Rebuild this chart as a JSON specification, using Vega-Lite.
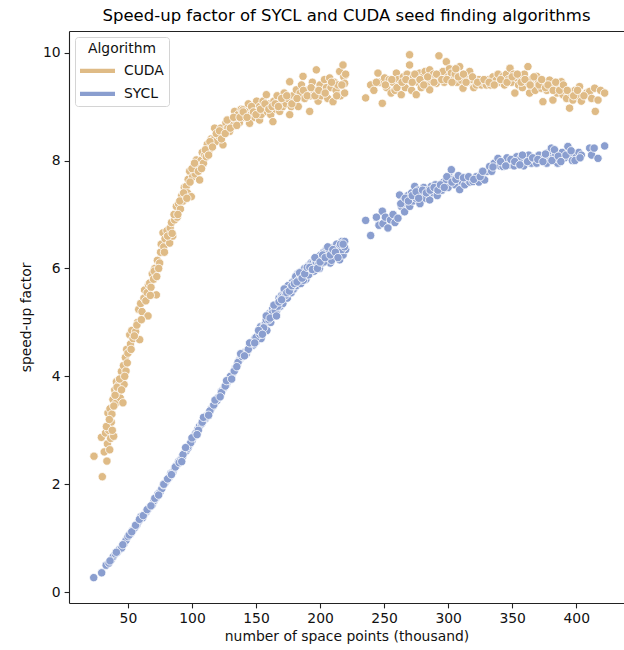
{
  "$schema": "https://vega.github.io/schema/vega-lite/v6.json",
  "width": 555,
  "height": 572,
  "autosize": {"type": "none"},
  "padding": {"left": 69, "top": 31, "right": 0, "bottom": 47},
  "title": {"text": "Speed-up factor of SYCL and CUDA seed finding algorithms", "fontSize": 16.5, "font": "DejaVu Sans", "fontWeight": "normal", "color": "#000", "offset": 7, "anchor": "middle"},
  "config": {
    "font": "DejaVu Sans",
    "view": {"stroke": null},
    "axis": {"domainColor": "#222", "domainWidth": 1.1, "tickColor": "#222", "tickWidth": 1.1, "tickSize": 4.9, "labelPadding": 4, "labelFontSize": 13.9, "labelColor": "#111", "titleFontSize": 13.9, "titleFontWeight": "normal", "titleColor": "#111", "grid": false, "labelFont": "DejaVu Sans", "titleFont": "DejaVu Sans"}
  },
  "data": {"values": [
    {"alg":"CUDA","points":23.5,"speedup":2.52},{"alg":"CUDA","points":30,"speedup":2.14},{"alg":"CUDA","points":29.3,"speedup":2.87},{"alg":"CUDA","points":31.5,"speedup":2.6},{"alg":"CUDA","points":33.6,"speedup":2.43},{"alg":"CUDA","points":32.5,"speedup":2.95},{"alg":"CUDA","points":34,"speedup":2.75},{"alg":"CUDA","points":35.8,"speedup":2.64},{"alg":"CUDA","points":35,"speedup":3.0},{"alg":"CUDA","points":36.5,"speedup":2.85},{"alg":"CUDA","points":37,"speedup":3.15},{"alg":"CUDA","points":38.9,"speedup":2.89},{"alg":"CUDA","points":33.2,"speedup":3.07},{"alg":"CUDA","points":34.4,"speedup":3.32},{"alg":"CUDA","points":36,"speedup":3.4},{"alg":"CUDA","points":37.5,"speedup":3.3},{"alg":"CUDA","points":38.3,"speedup":3.57},{"alg":"CUDA","points":39.7,"speedup":3.75},{"alg":"CUDA","points":40.5,"speedup":3.5},{"alg":"CUDA","points":41,"speedup":3.9},{"alg":"CUDA","points":42,"speedup":3.7},{"alg":"CUDA","points":43,"speedup":3.85},{"alg":"CUDA","points":44,"speedup":3.6},{"alg":"CUDA","points":46.1,"speedup":3.51},{"alg":"CUDA","points":44.9,"speedup":4.09},{"alg":"CUDA","points":45.5,"speedup":3.95},{"alg":"CUDA","points":46.5,"speedup":4.2},{"alg":"CUDA","points":47,"speedup":3.85},{"alg":"CUDA","points":48,"speedup":4.35},{"alg":"CUDA","points":48.5,"speedup":4.1},{"alg":"CUDA","points":49,"speedup":4.5},{"alg":"CUDA","points":50,"speedup":4.43},{"alg":"CUDA","points":51.4,"speedup":4.77},{"alg":"CUDA","points":52,"speedup":4.6},{"alg":"CUDA","points":53,"speedup":4.85},{"alg":"CUDA","points":54,"speedup":4.7},{"alg":"CUDA","points":56,"speedup":4.83},{"alg":"CUDA","points":59.2,"speedup":4.68},{"alg":"CUDA","points":57.5,"speedup":5.0},{"alg":"CUDA","points":58.4,"speedup":5.24},{"alg":"CUDA","points":59.9,"speedup":5.35},{"alg":"CUDA","points":61,"speedup":5.2},{"alg":"CUDA","points":62.5,"speedup":5.45},{"alg":"CUDA","points":63,"speedup":5.6},{"alg":"CUDA","points":65.7,"speedup":5.12},{"alg":"CUDA","points":65,"speedup":5.55},{"alg":"CUDA","points":66,"speedup":5.7},{"alg":"CUDA","points":67,"speedup":5.73},{"alg":"CUDA","points":68,"speedup":5.65},{"alg":"CUDA","points":69,"speedup":5.9},{"alg":"CUDA","points":70,"speedup":5.8},{"alg":"CUDA","points":71,"speedup":6.0},{"alg":"CUDA","points":72.2,"speedup":5.51},{"alg":"CUDA","points":73,"speedup":6.15},{"alg":"CUDA","points":74.8,"speedup":6.1},{"alg":"CUDA","points":75.5,"speedup":6.3},{"alg":"CUDA","points":76,"speedup":6.45},{"alg":"CUDA","points":77.4,"speedup":6.66},{"alg":"CUDA","points":78,"speedup":6.4},{"alg":"CUDA","points":79,"speedup":6.55},{"alg":"CUDA","points":80.5,"speedup":6.7},{"alg":"CUDA","points":82.6,"speedup":6.47},{"alg":"CUDA","points":83,"speedup":6.75},{"alg":"CUDA","points":84,"speedup":6.85},{"alg":"CUDA","points":85,"speedup":6.6},{"alg":"CUDA","points":86.5,"speedup":6.9},{"alg":"CUDA","points":87.8,"speedup":7.15},{"alg":"CUDA","points":88.5,"speedup":6.95},{"alg":"CUDA","points":89.5,"speedup":7.2},{"alg":"CUDA","points":91,"speedup":7.1},{"alg":"CUDA","points":92,"speedup":7.35},{"alg":"CUDA","points":93,"speedup":7.25},{"alg":"CUDA","points":94,"speedup":7.5},{"alg":"CUDA","points":95.6,"speedup":7.52},{"alg":"CUDA","points":96.5,"speedup":7.4},{"alg":"CUDA","points":97,"speedup":7.65},{"alg":"CUDA","points":98.2,"speedup":7.8},{"alg":"CUDA","points":99.5,"speedup":7.33},{"alg":"CUDA","points":100.5,"speedup":7.7},{"alg":"CUDA","points":101.5,"speedup":7.9},{"alg":"CUDA","points":102.5,"speedup":7.75},{"alg":"CUDA","points":103.4,"speedup":8.01},{"alg":"CUDA","points":104.5,"speedup":7.9},{"alg":"CUDA","points":106,"speedup":7.64},{"alg":"CUDA","points":107,"speedup":8.0},{"alg":"CUDA","points":108,"speedup":8.15},{"alg":"CUDA","points":109,"speedup":7.95},{"alg":"CUDA","points":110,"speedup":8.1},{"alg":"CUDA","points":111.2,"speedup":8.07},{"alg":"CUDA","points":112,"speedup":8.3},{"alg":"CUDA","points":113.5,"speedup":8.2},{"alg":"CUDA","points":115,"speedup":8.4},{"alg":"CUDA","points":116.4,"speedup":8.38},{"alg":"CUDA","points":117.7,"speedup":8.6},{"alg":"CUDA","points":118.5,"speedup":8.35},{"alg":"CUDA","points":120,"speedup":8.5},{"alg":"CUDA","points":121,"speedup":8.45},{"alg":"CUDA","points":122.5,"speedup":8.6},{"alg":"CUDA","points":124.2,"speedup":8.29},{"alg":"CUDA","points":125,"speedup":8.55},{"alg":"CUDA","points":126.5,"speedup":8.7},{"alg":"CUDA","points":128,"speedup":8.6},{"alg":"CUDA","points":129.4,"speedup":8.54},{"alg":"CUDA","points":130.5,"speedup":8.75},{"alg":"CUDA","points":131.5,"speedup":8.65},{"alg":"CUDA","points":133.3,"speedup":8.91},{"alg":"CUDA","points":134.5,"speedup":8.75},{"alg":"CUDA","points":136,"speedup":8.85},{"alg":"CUDA","points":137,"speedup":8.7},{"alg":"CUDA","points":138.5,"speedup":8.95},{"alg":"CUDA","points":139.8,"speedup":8.94},{"alg":"CUDA","points":141,"speedup":8.8},{"alg":"CUDA","points":142.5,"speedup":8.9},{"alg":"CUDA","points":144,"speedup":9.05},{"alg":"CUDA","points":145,"speedup":8.69},{"alg":"CUDA","points":146,"speedup":8.85},{"alg":"CUDA","points":147.5,"speedup":8.95},{"alg":"CUDA","points":149,"speedup":8.8},{"alg":"CUDA","points":150.5,"speedup":9.1},{"alg":"CUDA","points":151.5,"speedup":8.9},{"alg":"CUDA","points":152.8,"speedup":9.0},{"alg":"CUDA","points":152.8,"speedup":8.75},{"alg":"CUDA","points":154,"speedup":8.85},{"alg":"CUDA","points":155.5,"speedup":9.1},{"alg":"CUDA","points":156.5,"speedup":8.95},{"alg":"CUDA","points":158.1,"speedup":9.22},{"alg":"CUDA","points":159,"speedup":8.9},{"alg":"CUDA","points":160.5,"speedup":9.05},{"alg":"CUDA","points":161.5,"speedup":8.85},{"alg":"CUDA","points":163.2,"speedup":8.72},{"alg":"CUDA","points":164,"speedup":9.1},{"alg":"CUDA","points":165.5,"speedup":8.95},{"alg":"CUDA","points":166.5,"speedup":9.2},{"alg":"CUDA","points":168.5,"speedup":8.91},{"alg":"CUDA","points":169.5,"speedup":9.1},{"alg":"CUDA","points":171,"speedup":9.0},{"alg":"CUDA","points":172,"speedup":9.25},{"alg":"CUDA","points":173.5,"speedup":9.05},{"alg":"CUDA","points":175,"speedup":9.15},{"alg":"CUDA","points":176.3,"speedup":8.85},{"alg":"CUDA","points":176.3,"speedup":9.46},{"alg":"CUDA","points":177.5,"speedup":9.0},{"alg":"CUDA","points":179,"speedup":9.2},{"alg":"CUDA","points":180.5,"speedup":9.1},{"alg":"CUDA","points":181.5,"speedup":9.31},{"alg":"CUDA","points":183,"speedup":9.0},{"alg":"CUDA","points":184.5,"speedup":9.25},{"alg":"CUDA","points":185.5,"speedup":9.4},{"alg":"CUDA","points":186.7,"speedup":9.56},{"alg":"CUDA","points":188,"speedup":9.15},{"alg":"CUDA","points":189.5,"speedup":9.3},{"alg":"CUDA","points":191.9,"speedup":8.91},{"alg":"CUDA","points":192.5,"speedup":9.2},{"alg":"CUDA","points":194,"speedup":9.45},{"alg":"CUDA","points":195.5,"speedup":9.3},{"alg":"CUDA","points":197.1,"speedup":9.68},{"alg":"CUDA","points":198.5,"speedup":9.1},{"alg":"CUDA","points":200,"speedup":9.4},{"alg":"CUDA","points":201,"speedup":9.2},{"alg":"CUDA","points":202.3,"speedup":9.28},{"alg":"CUDA","points":203.5,"speedup":9.5},{"alg":"CUDA","points":205,"speedup":9.35},{"alg":"CUDA","points":206,"speedup":9.15},{"alg":"CUDA","points":207.5,"speedup":9.53},{"alg":"CUDA","points":208.5,"speedup":9.35},{"alg":"CUDA","points":210.1,"speedup":9.09},{"alg":"CUDA","points":211,"speedup":9.45},{"alg":"CUDA","points":212.5,"speedup":9.3},{"alg":"CUDA","points":214,"speedup":9.4},{"alg":"CUDA","points":215.3,"speedup":9.65},{"alg":"CUDA","points":216,"speedup":9.2},{"alg":"CUDA","points":217.9,"speedup":9.77},{"alg":"CUDA","points":218.5,"speedup":9.55},{"alg":"CUDA","points":219.2,"speedup":9.25},{"alg":"CUDA","points":219.2,"speedup":9.43},{"alg":"CUDA","points":220,"speedup":9.6},
    {"alg":"CUDA","points":35.5,"speedup":3.2},{"alg":"CUDA","points":37.8,"speedup":3.0},{"alg":"CUDA","points":39,"speedup":3.45},{"alg":"CUDA","points":40,"speedup":3.65},{"alg":"CUDA","points":41.5,"speedup":3.8},{"alg":"CUDA","points":43.5,"speedup":3.95},{"alg":"CUDA","points":45,"speedup":3.75},{"alg":"CUDA","points":47.5,"speedup":4.0},{"alg":"CUDA","points":49.5,"speedup":4.25},{"alg":"CUDA","points":52.5,"speedup":4.5},{"alg":"CUDA","points":55,"speedup":4.75},{"alg":"CUDA","points":57,"speedup":4.95},{"alg":"CUDA","points":60.5,"speedup":5.05},{"alg":"CUDA","points":64,"speedup":5.4},{"alg":"CUDA","points":67.5,"speedup":5.5},{"alg":"CUDA","points":70.5,"speedup":5.95},{"alg":"CUDA","points":72.5,"speedup":5.85},{"alg":"CUDA","points":74,"speedup":6.0},{"alg":"CUDA","points":78.5,"speedup":6.3},{"alg":"CUDA","points":81,"speedup":6.6},{"alg":"CUDA","points":84.5,"speedup":6.65},{"alg":"CUDA","points":86,"speedup":7.0},{"alg":"CUDA","points":89,"speedup":7.0},{"alg":"CUDA","points":90.5,"speedup":7.25},{"alg":"CUDA","points":93.5,"speedup":7.4},{"alg":"CUDA","points":96,"speedup":7.3},{"alg":"CUDA","points":98.5,"speedup":7.6},{"alg":"CUDA","points":100,"speedup":7.85},
    {"alg":"CUDA","points":102,"speedup":7.95},{"alg":"CUDA","points":105,"speedup":7.8},{"alg":"CUDA","points":107.5,"speedup":7.85},{"alg":"CUDA","points":110.5,"speedup":8.2},{"alg":"CUDA","points":113,"speedup":8.1},{"alg":"CUDA","points":114,"speedup":8.35},{"alg":"CUDA","points":116,"speedup":8.25},{"alg":"CUDA","points":119,"speedup":8.5},{"alg":"CUDA","points":121.5,"speedup":8.55},{"alg":"CUDA","points":123,"speedup":8.4},{"alg":"CUDA","points":126,"speedup":8.5},{"alg":"CUDA","points":127.5,"speedup":8.75},{"alg":"CUDA","points":130,"speedup":8.6},{"alg":"CUDA","points":132.5,"speedup":8.8},{"alg":"CUDA","points":135,"speedup":8.65},{"alg":"CUDA","points":137.5,"speedup":8.8},{"alg":"CUDA","points":140,"speedup":8.9},{"alg":"CUDA","points":143,"speedup":8.8},{"alg":"CUDA","points":146.5,"speedup":9.0},{"alg":"CUDA","points":148,"speedup":8.9},{"alg":"CUDA","points":150,"speedup":8.85},{"alg":"CUDA","points":153.5,"speedup":8.95},{"alg":"CUDA","points":157,"speedup":9.05},{"alg":"CUDA","points":160,"speedup":8.95},{"alg":"CUDA","points":162.5,"speedup":9.0},{"alg":"CUDA","points":165,"speedup":9.05},{"alg":"CUDA","points":167.5,"speedup":9.0},{"alg":"CUDA","points":170,"speedup":9.15},{"alg":"CUDA","points":174,"speedup":9.2},{"alg":"CUDA","points":178,"speedup":9.05},{"alg":"CUDA","points":182,"speedup":9.15},{"alg":"CUDA","points":187,"speedup":9.3},{"alg":"CUDA","points":190,"speedup":9.2},{"alg":"CUDA","points":193,"speedup":9.35},{"alg":"CUDA","points":196,"speedup":9.2},{"alg":"CUDA","points":199,"speedup":9.3},{"alg":"CUDA","points":204,"speedup":9.25},{"alg":"CUDA","points":209,"speedup":9.45},{"alg":"CUDA","points":213,"speedup":9.2},{"alg":"CUDA","points":217,"speedup":9.4},
    {"alg":"CUDA","points":235.6,"speedup":9.16},{"alg":"CUDA","points":239.5,"speedup":9.4},{"alg":"CUDA","points":242,"speedup":9.3},{"alg":"CUDA","points":245.2,"speedup":9.62},{"alg":"CUDA","points":246.5,"speedup":9.45},{"alg":"CUDA","points":248.6,"speedup":9.06},{"alg":"CUDA","points":250.4,"speedup":9.53},{"alg":"CUDA","points":252,"speedup":9.35},{"alg":"CUDA","points":254,"speedup":9.5},{"alg":"CUDA","points":255.5,"speedup":9.25},{"alg":"CUDA","points":257,"speedup":9.45},{"alg":"CUDA","points":258.5,"speedup":9.3},{"alg":"CUDA","points":259.6,"speedup":9.62},{"alg":"CUDA","points":261,"speedup":9.5},{"alg":"CUDA","points":262.1,"speedup":9.4},{"alg":"CUDA","points":263.4,"speedup":9.22},{"alg":"CUDA","points":265,"speedup":9.55},{"alg":"CUDA","points":266.5,"speedup":9.35},{"alg":"CUDA","points":268,"speedup":9.6},{"alg":"CUDA","points":269.9,"speedup":9.96},{"alg":"CUDA","points":269.9,"speedup":9.77},{"alg":"CUDA","points":269.9,"speedup":9.49},{"alg":"CUDA","points":271.5,"speedup":9.3},{"alg":"CUDA","points":273,"speedup":9.55},{"alg":"CUDA","points":275.1,"speedup":9.22},{"alg":"CUDA","points":276.5,"speedup":9.45},{"alg":"CUDA","points":277.7,"speedup":9.62},{"alg":"CUDA","points":279,"speedup":9.35},{"alg":"CUDA","points":280.5,"speedup":9.55},{"alg":"CUDA","points":282,"speedup":9.65},{"alg":"CUDA","points":283.5,"speedup":9.4},{"alg":"CUDA","points":285.6,"speedup":9.31},{"alg":"CUDA","points":285.6,"speedup":9.68},{"alg":"CUDA","points":287,"speedup":9.5},{"alg":"CUDA","points":288.5,"speedup":9.6},{"alg":"CUDA","points":290.8,"speedup":9.43},{"alg":"CUDA","points":292.8,"speedup":9.94},{"alg":"CUDA","points":294,"speedup":9.55},{"alg":"CUDA","points":296,"speedup":9.65},{"alg":"CUDA","points":297,"speedup":9.45},{"alg":"CUDA","points":298.6,"speedup":9.83},{"alg":"CUDA","points":300,"speedup":9.55},{"alg":"CUDA","points":301,"speedup":9.7},{"alg":"CUDA","points":302.5,"speedup":9.62},{"alg":"CUDA","points":304,"speedup":9.5},{"alg":"CUDA","points":305.5,"speedup":9.6},{"alg":"CUDA","points":307,"speedup":9.45},{"alg":"CUDA","points":309,"speedup":9.74},{"alg":"CUDA","points":310.3,"speedup":9.49},{"alg":"CUDA","points":311.6,"speedup":9.34},{"alg":"CUDA","points":313,"speedup":9.55},{"alg":"CUDA","points":315,"speedup":9.45},{"alg":"CUDA","points":316.8,"speedup":9.65},{"alg":"CUDA","points":318.5,"speedup":9.5},{"alg":"CUDA","points":320,"speedup":9.35},{"alg":"CUDA","points":322,"speedup":9.4},{"alg":"CUDA","points":324,"speedup":9.5},{"alg":"CUDA","points":326,"speedup":9.4},{"alg":"CUDA","points":327.5,"speedup":9.45},{"alg":"CUDA","points":329.8,"speedup":9.4},{"alg":"CUDA","points":331.5,"speedup":9.5},{"alg":"CUDA","points":333,"speedup":9.4},{"alg":"CUDA","points":335,"speedup":9.55},{"alg":"CUDA","points":337.6,"speedup":9.49},{"alg":"CUDA","points":339,"speedup":9.6},{"alg":"CUDA","points":340.5,"speedup":9.45},{"alg":"CUDA","points":342.8,"speedup":9.56},{"alg":"CUDA","points":344,"speedup":9.4},{"alg":"CUDA","points":345.5,"speedup":9.6},{"alg":"CUDA","points":347,"speedup":9.5},{"alg":"CUDA","points":348.3,"speedup":9.71},{"alg":"CUDA","points":349.5,"speedup":9.45},{"alg":"CUDA","points":351,"speedup":9.6},{"alg":"CUDA","points":352.1,"speedup":9.25},{"alg":"CUDA","points":353.5,"speedup":9.53},{"alg":"CUDA","points":355,"speedup":9.4},{"alg":"CUDA","points":356.5,"speedup":9.55},{"alg":"CUDA","points":358,"speedup":9.35},{"alg":"CUDA","points":359.5,"speedup":9.6},{"alg":"CUDA","points":361.3,"speedup":9.46},{"alg":"CUDA","points":362.3,"speedup":9.74},{"alg":"CUDA","points":363.6,"speedup":9.25},{"alg":"CUDA","points":365,"speedup":9.5},{"alg":"CUDA","points":366.5,"speedup":9.4},{"alg":"CUDA","points":368,"speedup":9.3},{"alg":"CUDA","points":369.1,"speedup":9.56},{"alg":"CUDA","points":370.5,"speedup":9.45},{"alg":"CUDA","points":372.8,"speedup":9.34},{"alg":"CUDA","points":374,"speedup":9.09},{"alg":"CUDA","points":375.5,"speedup":9.45},{"alg":"CUDA","points":377,"speedup":9.3},{"alg":"CUDA","points":379.2,"speedup":9.49},{"alg":"CUDA","points":380.5,"speedup":9.35},{"alg":"CUDA","points":381.8,"speedup":9.12},{"alg":"CUDA","points":383.5,"speedup":9.4},{"alg":"CUDA","points":385,"speedup":9.25},{"alg":"CUDA","points":386.5,"speedup":9.35},{"alg":"CUDA","points":388.4,"speedup":9.46},{"alg":"CUDA","points":389.6,"speedup":9.22},{"alg":"CUDA","points":391,"speedup":9.3},{"alg":"CUDA","points":392.5,"speedup":9.15},{"alg":"CUDA","points":394.8,"speedup":8.97},{"alg":"CUDA","points":396,"speedup":9.25},{"alg":"CUDA","points":397.4,"speedup":9.12},{"alg":"CUDA","points":399,"speedup":9.3},{"alg":"CUDA","points":400.5,"speedup":9.2},{"alg":"CUDA","points":402.6,"speedup":9.37},{"alg":"CUDA","points":404,"speedup":9.1},{"alg":"CUDA","points":408,"speedup":9.25},{"alg":"CUDA","points":410.5,"speedup":9.28},{"alg":"CUDA","points":412,"speedup":9.15},{"alg":"CUDA","points":414.4,"speedup":9.34},{"alg":"CUDA","points":414.9,"speedup":8.91},{"alg":"CUDA","points":417,"speedup":9.12},{"alg":"CUDA","points":419,"speedup":9.3},{"alg":"CUDA","points":422.2,"speedup":9.25},
    {"alg":"CUDA","points":244,"speedup":9.45},{"alg":"CUDA","points":251,"speedup":9.4},{"alg":"CUDA","points":256,"speedup":9.5},{"alg":"CUDA","points":260,"speedup":9.35},{"alg":"CUDA","points":264,"speedup":9.45},{"alg":"CUDA","points":267,"speedup":9.5},{"alg":"CUDA","points":272,"speedup":9.45},{"alg":"CUDA","points":274,"speedup":9.6},{"alg":"CUDA","points":278,"speedup":9.5},{"alg":"CUDA","points":281,"speedup":9.4},{"alg":"CUDA","points":284,"speedup":9.55},{"alg":"CUDA","points":289,"speedup":9.45},{"alg":"CUDA","points":291,"speedup":9.6},{"alg":"CUDA","points":295,"speedup":9.5},{"alg":"CUDA","points":299,"speedup":9.5},{"alg":"CUDA","points":303,"speedup":9.45},{"alg":"CUDA","points":306,"speedup":9.7},{"alg":"CUDA","points":308,"speedup":9.55},{"alg":"CUDA","points":312,"speedup":9.6},{"alg":"CUDA","points":314,"speedup":9.45},{"alg":"CUDA","points":319,"speedup":9.55},{"alg":"CUDA","points":323,"speedup":9.45},{"alg":"CUDA","points":328,"speedup":9.5},{"alg":"CUDA","points":332,"speedup":9.45},{"alg":"CUDA","points":336,"speedup":9.4},{"alg":"CUDA","points":341,"speedup":9.5},{"alg":"CUDA","points":346,"speedup":9.45},{"alg":"CUDA","points":350,"speedup":9.55},{"alg":"CUDA","points":354,"speedup":9.6},{"alg":"CUDA","points":357,"speedup":9.45},{"alg":"CUDA","points":360,"speedup":9.5},{"alg":"CUDA","points":364,"speedup":9.4},{"alg":"CUDA","points":367,"speedup":9.55},{"alg":"CUDA","points":371,"speedup":9.4},{"alg":"CUDA","points":373,"speedup":9.5},{"alg":"CUDA","points":376,"speedup":9.35},{"alg":"CUDA","points":378,"speedup":9.4},{"alg":"CUDA","points":382,"speedup":9.3},{"alg":"CUDA","points":384,"speedup":9.45},{"alg":"CUDA","points":387,"speedup":9.3},{"alg":"CUDA","points":390,"speedup":9.4},{"alg":"CUDA","points":393,"speedup":9.3},{"alg":"CUDA","points":398,"speedup":9.2},{"alg":"CUDA","points":401,"speedup":9.3},{"alg":"CUDA","points":406,"speedup":9.2},
    {"alg":"SYCL","points":23.3,"speedup":0.27},{"alg":"SYCL","points":29.5,"speedup":0.36},{"alg":"SYCL","points":33,"speedup":0.5},{"alg":"SYCL","points":35.2,"speedup":0.54},{"alg":"SYCL","points":37,"speedup":0.6},{"alg":"SYCL","points":38.5,"speedup":0.66},{"alg":"SYCL","points":40.2,"speedup":0.71},{"alg":"SYCL","points":42,"speedup":0.75},{"alg":"SYCL","points":43.5,"speedup":0.8},{"alg":"SYCL","points":45.1,"speedup":0.82},{"alg":"SYCL","points":47,"speedup":0.9},{"alg":"SYCL","points":48.5,"speedup":0.96},{"alg":"SYCL","points":50,"speedup":1.03},{"alg":"SYCL","points":52,"speedup":1.08},{"alg":"SYCL","points":54,"speedup":1.15},{"alg":"SYCL","points":55.5,"speedup":1.2},{"alg":"SYCL","points":57,"speedup":1.25},{"alg":"SYCL","points":58.5,"speedup":1.32},{"alg":"SYCL","points":60,"speedup":1.4},{"alg":"SYCL","points":61.5,"speedup":1.38},{"alg":"SYCL","points":63,"speedup":1.45},{"alg":"SYCL","points":64.5,"speedup":1.5},{"alg":"SYCL","points":66,"speedup":1.55},{"alg":"SYCL","points":67.5,"speedup":1.59},{"alg":"SYCL","points":69,"speedup":1.62},{"alg":"SYCL","points":70.5,"speedup":1.7},{"alg":"SYCL","points":72,"speedup":1.75},{"alg":"SYCL","points":73.5,"speedup":1.82},{"alg":"SYCL","points":75,"speedup":1.85},{"alg":"SYCL","points":76.5,"speedup":1.92},{"alg":"SYCL","points":77.7,"speedup":1.99},{"alg":"SYCL","points":79,"speedup":2.02},{"alg":"SYCL","points":80.5,"speedup":2.08},{"alg":"SYCL","points":82,"speedup":2.12},{"alg":"SYCL","points":83.5,"speedup":2.2},{"alg":"SYCL","points":85,"speedup":2.22},{"alg":"SYCL","points":86.5,"speedup":2.3},{"alg":"SYCL","points":88,"speedup":2.35},{"alg":"SYCL","points":89.5,"speedup":2.42},{"alg":"SYCL","points":91,"speedup":2.45},{"alg":"SYCL","points":92.5,"speedup":2.5},{"alg":"SYCL","points":94,"speedup":2.58},{"alg":"SYCL","points":95.5,"speedup":2.62},{"alg":"SYCL","points":96.9,"speedup":2.67},{"alg":"SYCL","points":98.5,"speedup":2.75},{"alg":"SYCL","points":100,"speedup":2.8},{"alg":"SYCL","points":101.5,"speedup":2.88},{"alg":"SYCL","points":103,"speedup":2.95},{"alg":"SYCL","points":104.7,"speedup":3.03},{"alg":"SYCL","points":106,"speedup":3.08},{"alg":"SYCL","points":107.5,"speedup":3.12},{"alg":"SYCL","points":109,"speedup":3.18},{"alg":"SYCL","points":110.5,"speedup":3.22},{"alg":"SYCL","points":112,"speedup":3.28},{"alg":"SYCL","points":113.8,"speedup":3.34},{"alg":"SYCL","points":115,"speedup":3.4},{"alg":"SYCL","points":116.5,"speedup":3.45},{"alg":"SYCL","points":118,"speedup":3.5},{"alg":"SYCL","points":119.5,"speedup":3.55},{"alg":"SYCL","points":121,"speedup":3.62},{"alg":"SYCL","points":122.9,"speedup":3.72},{"alg":"SYCL","points":124,"speedup":3.75},{"alg":"SYCL","points":125.5,"speedup":3.8},{"alg":"SYCL","points":127,"speedup":3.85},{"alg":"SYCL","points":128,"speedup":3.92},{"alg":"SYCL","points":129.4,"speedup":3.97},{"alg":"SYCL","points":131,"speedup":4.02},{"alg":"SYCL","points":132.5,"speedup":4.08},{"alg":"SYCL","points":134,"speedup":4.15},{"alg":"SYCL","points":135.5,"speedup":4.22},{"alg":"SYCL","points":137.2,"speedup":4.31},{"alg":"SYCL","points":138.5,"speedup":4.35},{"alg":"SYCL","points":140,"speedup":4.38},{"alg":"SYCL","points":141.5,"speedup":4.45},{"alg":"SYCL","points":142.5,"speedup":4.42},{"alg":"SYCL","points":143.7,"speedup":4.49},{"alg":"SYCL","points":145,"speedup":4.55},{"alg":"SYCL","points":146.5,"speedup":4.6},{"alg":"SYCL","points":148,"speedup":4.58},{"alg":"SYCL","points":149,"speedup":4.7},{"alg":"SYCL","points":150.3,"speedup":4.65},{"alg":"SYCL","points":151.5,"speedup":4.75},{"alg":"SYCL","points":152.5,"speedup":4.82},{"alg":"SYCL","points":153.5,"speedup":4.92},{"alg":"SYCL","points":154,"speedup":4.7},{"alg":"SYCL","points":155.4,"speedup":4.86},{"alg":"SYCL","points":156.5,"speedup":4.95},{"alg":"SYCL","points":157.5,"speedup":5.0},{"alg":"SYCL","points":158.5,"speedup":4.85},{"alg":"SYCL","points":159.5,"speedup":5.1},{"alg":"SYCL","points":160.7,"speedup":5.17},{"alg":"SYCL","points":161.5,"speedup":5.0},{"alg":"SYCL","points":162,"speedup":5.17},{"alg":"SYCL","points":163,"speedup":5.25},{"alg":"SYCL","points":164,"speedup":5.12},{"alg":"SYCL","points":165,"speedup":5.3},{"alg":"SYCL","points":166,"speedup":5.2},{"alg":"SYCL","points":167.1,"speedup":5.36},{"alg":"SYCL","points":168,"speedup":5.45},{"alg":"SYCL","points":169,"speedup":5.3},{"alg":"SYCL","points":170,"speedup":5.5},{"alg":"SYCL","points":171,"speedup":5.35},{"alg":"SYCL","points":172,"speedup":5.55},{"alg":"SYCL","points":173.7,"speedup":5.64},{"alg":"SYCL","points":174.5,"speedup":5.45},{"alg":"SYCL","points":175.5,"speedup":5.6},{"alg":"SYCL","points":176.5,"speedup":5.7},{"alg":"SYCL","points":177.5,"speedup":5.55},{"alg":"SYCL","points":178.5,"speedup":5.75},{"alg":"SYCL","points":179.5,"speedup":5.62},{"alg":"SYCL","points":180.5,"speedup":5.8},{"alg":"SYCL","points":181.5,"speedup":5.68},{"alg":"SYCL","points":182.5,"speedup":5.9},{"alg":"SYCL","points":184,"speedup":5.82},{"alg":"SYCL","points":185,"speedup":5.72},{"alg":"SYCL","points":186,"speedup":5.95},{"alg":"SYCL","points":187,"speedup":5.85},{"alg":"SYCL","points":188,"speedup":6.0},{"alg":"SYCL","points":189,"speedup":5.8},{"alg":"SYCL","points":190,"speedup":5.95},{"alg":"SYCL","points":191,"speedup":6.05},{"alg":"SYCL","points":192,"speedup":5.9},{"alg":"SYCL","points":193,"speedup":6.1},{"alg":"SYCL","points":194.5,"speedup":6.1},{"alg":"SYCL","points":195.5,"speedup":5.95},{"alg":"SYCL","points":196.5,"speedup":6.15},{"alg":"SYCL","points":197.5,"speedup":6.05},{"alg":"SYCL","points":198.5,"speedup":6.2},{"alg":"SYCL","points":199.5,"speedup":6.0},{"alg":"SYCL","points":200.5,"speedup":6.25},{"alg":"SYCL","points":201.5,"speedup":6.1},{"alg":"SYCL","points":203,"speedup":6.3},{"alg":"SYCL","points":204.9,"speedup":6.35},{"alg":"SYCL","points":205.5,"speedup":6.15},{"alg":"SYCL","points":206.5,"speedup":6.25},{"alg":"SYCL","points":208,"speedup":6.1},{"alg":"SYCL","points":209,"speedup":6.3},{"alg":"SYCL","points":210,"speedup":6.2},{"alg":"SYCL","points":211,"speedup":6.4},{"alg":"SYCL","points":212.7,"speedup":6.22},{"alg":"SYCL","points":213.5,"speedup":6.35},{"alg":"SYCL","points":215.3,"speedup":6.16},{"alg":"SYCL","points":216,"speedup":6.3},{"alg":"SYCL","points":217.1,"speedup":6.5},{"alg":"SYCL","points":218,"speedup":6.25},{"alg":"SYCL","points":219.2,"speedup":6.5},{"alg":"SYCL","points":220,"speedup":6.35},
    {"alg":"SYCL","points":36,"speedup":0.58},{"alg":"SYCL","points":41,"speedup":0.74},{"alg":"SYCL","points":46,"speedup":0.88},{"alg":"SYCL","points":51,"speedup":1.06},{"alg":"SYCL","points":53,"speedup":1.12},{"alg":"SYCL","points":56,"speedup":1.24},{"alg":"SYCL","points":59,"speedup":1.35},{"alg":"SYCL","points":62,"speedup":1.42},{"alg":"SYCL","points":65,"speedup":1.53},{"alg":"SYCL","points":68,"speedup":1.6},{"alg":"SYCL","points":71,"speedup":1.74},{"alg":"SYCL","points":74,"speedup":1.8},{"alg":"SYCL","points":78,"speedup":2.0},{"alg":"SYCL","points":81,"speedup":2.1},{"alg":"SYCL","points":84,"speedup":2.18},{"alg":"SYCL","points":87,"speedup":2.32},{"alg":"SYCL","points":90,"speedup":2.4},{"alg":"SYCL","points":93,"speedup":2.55},{"alg":"SYCL","points":97,"speedup":2.7},{"alg":"SYCL","points":99,"speedup":2.77},{"alg":"SYCL","points":102,"speedup":2.9},{"alg":"SYCL","points":105,"speedup":3.0},{"alg":"SYCL","points":108,"speedup":3.15},{"alg":"SYCL","points":111,"speedup":3.25},{"alg":"SYCL","points":114,"speedup":3.36},{"alg":"SYCL","points":117,"speedup":3.47},{"alg":"SYCL","points":120,"speedup":3.6},{"alg":"SYCL","points":123,"speedup":3.7},{"alg":"SYCL","points":126,"speedup":3.82},{"alg":"SYCL","points":130,"speedup":4.0},{"alg":"SYCL","points":133,"speedup":4.1},{"alg":"SYCL","points":136,"speedup":4.26},{"alg":"SYCL","points":139,"speedup":4.37},{"alg":"SYCL","points":144,"speedup":4.5},{"alg":"SYCL","points":147,"speedup":4.62},{"alg":"SYCL","points":150,"speedup":4.72},{"alg":"SYCL","points":153,"speedup":4.78},{"alg":"SYCL","points":156,"speedup":4.9},{"alg":"SYCL","points":158,"speedup":5.05},{"alg":"SYCL","points":160,"speedup":5.05},{"alg":"SYCL","points":163,"speedup":5.18},{"alg":"SYCL","points":165,"speedup":5.22},{"alg":"SYCL","points":167,"speedup":5.3},{"alg":"SYCL","points":169,"speedup":5.42},{"alg":"SYCL","points":171,"speedup":5.48},{"alg":"SYCL","points":173,"speedup":5.5},{"alg":"SYCL","points":175,"speedup":5.68},{"alg":"SYCL","points":177,"speedup":5.62},{"alg":"SYCL","points":179,"speedup":5.7},{"alg":"SYCL","points":181,"speedup":5.85},{"alg":"SYCL","points":183,"speedup":5.78},{"alg":"SYCL","points":185,"speedup":5.88},{"alg":"SYCL","points":187,"speedup":5.78},{"alg":"SYCL","points":189,"speedup":5.95},{"alg":"SYCL","points":191,"speedup":5.88},{"alg":"SYCL","points":193,"speedup":5.98},{"alg":"SYCL","points":195,"speedup":6.05},{"alg":"SYCL","points":197,"speedup":6.12},{"alg":"SYCL","points":199,"speedup":6.1},{"alg":"SYCL","points":201,"speedup":6.18},{"alg":"SYCL","points":203,"speedup":6.12},{"alg":"SYCL","points":205,"speedup":6.3},{"alg":"SYCL","points":207,"speedup":6.35},{"alg":"SYCL","points":209,"speedup":6.15},{"alg":"SYCL","points":211,"speedup":6.28},{"alg":"SYCL","points":213,"speedup":6.45},{"alg":"SYCL","points":215,"speedup":6.4},{"alg":"SYCL","points":217,"speedup":6.35},{"alg":"SYCL","points":219,"speedup":6.4},
    {"alg":"SYCL","points":92,"speedup":2.42},{"alg":"SYCL","points":95,"speedup":2.68},{"alg":"SYCL","points":100,"speedup":2.86},{"alg":"SYCL","points":104,"speedup":2.92},{"alg":"SYCL","points":109,"speedup":3.24},{"alg":"SYCL","points":113,"speedup":3.28},{"alg":"SYCL","points":118,"speedup":3.56},{"alg":"SYCL","points":122,"speedup":3.62},{"alg":"SYCL","points":127,"speedup":3.92},{"alg":"SYCL","points":131,"speedup":3.95},{"alg":"SYCL","points":135,"speedup":4.18},{"alg":"SYCL","points":138,"speedup":4.42},{"alg":"SYCL","points":141,"speedup":4.38},{"alg":"SYCL","points":145,"speedup":4.62},{"alg":"SYCL","points":149,"speedup":4.62},{"alg":"SYCL","points":152,"speedup":4.85},{"alg":"SYCL","points":155,"speedup":4.78},{"alg":"SYCL","points":158,"speedup":5.12},{"alg":"SYCL","points":161,"speedup":5.08},{"alg":"SYCL","points":164,"speedup":5.32},{"alg":"SYCL","points":166,"speedup":5.12},{"alg":"SYCL","points":168,"speedup":5.38},{"alg":"SYCL","points":170,"speedup":5.42},{"alg":"SYCL","points":172,"speedup":5.62},{"alg":"SYCL","points":174,"speedup":5.55},{"alg":"SYCL","points":176,"speedup":5.58},{"alg":"SYCL","points":178,"speedup":5.68},{"alg":"SYCL","points":180,"speedup":5.72},{"alg":"SYCL","points":182,"speedup":5.75},{"alg":"SYCL","points":184,"speedup":5.92},{"alg":"SYCL","points":186,"speedup":5.82},{"alg":"SYCL","points":188,"speedup":5.9},{"alg":"SYCL","points":190,"speedup":6.02},{"alg":"SYCL","points":192,"speedup":6.02},{"alg":"SYCL","points":194,"speedup":5.98},{"alg":"SYCL","points":196,"speedup":6.2},{"alg":"SYCL","points":198,"speedup":6.0},{"alg":"SYCL","points":200,"speedup":6.12},{"alg":"SYCL","points":202,"speedup":6.25},{"alg":"SYCL","points":204,"speedup":6.2},{"alg":"SYCL","points":206,"speedup":6.4},{"alg":"SYCL","points":208,"speedup":6.25},{"alg":"SYCL","points":210,"speedup":6.35},{"alg":"SYCL","points":212,"speedup":6.3},{"alg":"SYCL","points":214,"speedup":6.2},{"alg":"SYCL","points":216,"speedup":6.45},{"alg":"SYCL","points":218,"speedup":6.45},
    {"alg":"SYCL","points":235.6,"speedup":6.89},{"alg":"SYCL","points":239.5,"speedup":6.61},{"alg":"SYCL","points":244,"speedup":6.95},{"alg":"SYCL","points":246,"speedup":6.8},{"alg":"SYCL","points":248.6,"speedup":7.06},{"alg":"SYCL","points":249.1,"speedup":6.83},{"alg":"SYCL","points":251,"speedup":6.95},{"alg":"SYCL","points":253,"speedup":6.75},{"alg":"SYCL","points":255,"speedup":6.9},{"alg":"SYCL","points":257,"speedup":7.0},{"alg":"SYCL","points":258.5,"speedup":6.85},{"alg":"SYCL","points":260.8,"speedup":6.93},{"alg":"SYCL","points":262.1,"speedup":7.36},{"alg":"SYCL","points":263.5,"speedup":7.15},{"alg":"SYCL","points":265,"speedup":7.25},{"alg":"SYCL","points":266,"speedup":7.05},{"alg":"SYCL","points":267.4,"speedup":7.21},{"alg":"SYCL","points":268.5,"speedup":7.35},{"alg":"SYCL","points":270,"speedup":7.15},{"alg":"SYCL","points":271.5,"speedup":7.4},{"alg":"SYCL","points":272.5,"speedup":7.25},{"alg":"SYCL","points":273.9,"speedup":7.52},{"alg":"SYCL","points":275,"speedup":7.3},{"alg":"SYCL","points":276.5,"speedup":7.45},{"alg":"SYCL","points":278,"speedup":7.2},{"alg":"SYCL","points":279.5,"speedup":7.4},{"alg":"SYCL","points":281,"speedup":7.5},{"alg":"SYCL","points":282.5,"speedup":7.3},{"alg":"SYCL","points":284,"speedup":7.45},{"alg":"SYCL","points":285.6,"speedup":7.27},{"alg":"SYCL","points":286.9,"speedup":7.52},{"alg":"SYCL","points":288.5,"speedup":7.4},{"alg":"SYCL","points":290,"speedup":7.55},{"alg":"SYCL","points":291.5,"speedup":7.35},{"alg":"SYCL","points":293,"speedup":7.5},{"alg":"SYCL","points":295,"speedup":7.45},{"alg":"SYCL","points":296.5,"speedup":7.6},{"alg":"SYCL","points":298.6,"speedup":7.61},{"alg":"SYCL","points":300,"speedup":7.5},{"alg":"SYCL","points":301,"speedup":7.7},{"alg":"SYCL","points":302.5,"speedup":7.83},{"alg":"SYCL","points":304,"speedup":7.65},{"alg":"SYCL","points":305.5,"speedup":7.55},{"alg":"SYCL","points":307,"speedup":7.7},{"alg":"SYCL","points":309,"speedup":7.46},{"alg":"SYCL","points":311,"speedup":7.6},{"alg":"SYCL","points":313,"speedup":7.55},{"alg":"SYCL","points":315,"speedup":7.65},{"alg":"SYCL","points":317,"speedup":7.6},{"alg":"SYCL","points":319.4,"speedup":7.61},{"alg":"SYCL","points":322,"speedup":7.7},{"alg":"SYCL","points":324,"speedup":7.6},{"alg":"SYCL","points":326,"speedup":7.75},{"alg":"SYCL","points":328.5,"speedup":7.64},{"alg":"SYCL","points":330.5,"speedup":7.8},{"alg":"SYCL","points":332.4,"speedup":7.89},{"alg":"SYCL","points":334,"speedup":7.8},{"alg":"SYCL","points":336,"speedup":7.95},{"alg":"SYCL","points":338.9,"speedup":8.04},{"alg":"SYCL","points":340.5,"speedup":7.9},{"alg":"SYCL","points":342.8,"speedup":7.89},{"alg":"SYCL","points":344.5,"speedup":7.95},{"alg":"SYCL","points":346,"speedup":8.05},{"alg":"SYCL","points":348.3,"speedup":7.92},{"alg":"SYCL","points":350,"speedup":8.0},{"alg":"SYCL","points":351.5,"speedup":7.9},{"alg":"SYCL","points":353.5,"speedup":8.07},{"alg":"SYCL","points":355,"speedup":7.95},{"alg":"SYCL","points":357,"speedup":8.05},{"alg":"SYCL","points":359,"speedup":7.9},{"alg":"SYCL","points":361.3,"speedup":8.04},{"alg":"SYCL","points":363,"speedup":8.1},{"alg":"SYCL","points":365,"speedup":7.95},{"alg":"SYCL","points":367,"speedup":8.05},{"alg":"SYCL","points":369.1,"speedup":7.95},{"alg":"SYCL","points":371,"speedup":8.1},{"alg":"SYCL","points":373,"speedup":8.0},{"alg":"SYCL","points":375.6,"speedup":8.07},{"alg":"SYCL","points":377,"speedup":7.95},{"alg":"SYCL","points":378.5,"speedup":8.15},{"alg":"SYCL","points":380.6,"speedup":8.23},{"alg":"SYCL","points":382,"speedup":8.05},{"alg":"SYCL","points":384,"speedup":8.12},{"alg":"SYCL","points":385.5,"speedup":7.95},{"alg":"SYCL","points":387.1,"speedup":8.01},{"alg":"SYCL","points":389,"speedup":8.15},{"alg":"SYCL","points":391,"speedup":8.05},{"alg":"SYCL","points":393.5,"speedup":8.26},{"alg":"SYCL","points":395,"speedup":8.1},{"alg":"SYCL","points":397,"speedup":8.0},{"alg":"SYCL","points":400.1,"speedup":8.07},{"alg":"SYCL","points":402,"speedup":8.15},{"alg":"SYCL","points":404,"speedup":8.1},{"alg":"SYCL","points":410.5,"speedup":8.23},{"alg":"SYCL","points":412,"speedup":8.1},{"alg":"SYCL","points":414,"speedup":8.23},{"alg":"SYCL","points":417,"speedup":8.04},{"alg":"SYCL","points":422.2,"speedup":8.27},
    {"alg":"SYCL","points":263,"speedup":7.2},{"alg":"SYCL","points":266.5,"speedup":7.3},{"alg":"SYCL","points":269,"speedup":7.25},{"alg":"SYCL","points":272,"speedup":7.35},{"alg":"SYCL","points":275,"speedup":7.42},{"alg":"SYCL","points":277,"speedup":7.3},{"alg":"SYCL","points":280,"speedup":7.45},{"alg":"SYCL","points":283,"speedup":7.4},{"alg":"SYCL","points":286,"speedup":7.45},{"alg":"SYCL","points":289,"speedup":7.5},{"alg":"SYCL","points":292,"speedup":7.45},{"alg":"SYCL","points":294,"speedup":7.55},{"alg":"SYCL","points":297,"speedup":7.5},{"alg":"SYCL","points":299,"speedup":7.7},{"alg":"SYCL","points":303,"speedup":7.6},{"alg":"SYCL","points":306,"speedup":7.65},{"alg":"SYCL","points":308,"speedup":7.72},{"alg":"SYCL","points":312,"speedup":7.68},{"alg":"SYCL","points":316,"speedup":7.7},{"alg":"SYCL","points":320,"speedup":7.65},{"alg":"SYCL","points":325,"speedup":7.7},{"alg":"SYCL","points":327,"speedup":7.8},{"alg":"SYCL","points":335,"speedup":7.88},{"alg":"SYCL","points":341,"speedup":7.98},{"alg":"SYCL","points":345,"speedup":7.9},{"alg":"SYCL","points":349,"speedup":8.02},{"alg":"SYCL","points":352,"speedup":7.98},{"alg":"SYCL","points":356,"speedup":7.92},{"alg":"SYCL","points":358,"speedup":8.1},{"alg":"SYCL","points":362,"speedup":7.98},{"alg":"SYCL","points":366,"speedup":8.05},{"alg":"SYCL","points":370,"speedup":8.02},{"alg":"SYCL","points":374,"speedup":7.98},{"alg":"SYCL","points":376,"speedup":8.12},{"alg":"SYCL","points":381,"speedup":8.0},{"alg":"SYCL","points":383,"speedup":8.2},{"alg":"SYCL","points":386,"speedup":8.08},{"alg":"SYCL","points":388,"speedup":7.98},{"alg":"SYCL","points":392,"speedup":8.1},{"alg":"SYCL","points":396,"speedup":8.18},{"alg":"SYCL","points":399,"speedup":8.0},{"alg":"SYCL","points":403,"speedup":8.05}
  ]},
  "layer": [
    {
      "mark": {"type": "point", "filled": true, "size": 70, "opacity": 1, "stroke": "white", "strokeWidth": 0.8, "clip": true},
      "encoding": {
        "x": {"field": "points", "type": "quantitative", "scale": {"domain": [4, 437.3], "nice": false, "zero": false},
              "axis": {"orient": "bottom", "values": [50, 100, 150, 200, 250, 300, 350, 400], "title": "number of space points (thousand)", "titlePadding": 4, "domain": true}},
        "y": {"field": "speedup", "type": "quantitative", "scale": {"domain": [-0.2, 10.4], "nice": false, "zero": false},
              "axis": {"values": [0, 2, 4, 6, 8, 10], "title": "speed-up factor", "titlePadding": 9, "domain": true}},
        "color": {"field": "alg", "type": "nominal", "scale": {"domain": ["CUDA", "SYCL"], "range": ["#dfbb86", "#8a9ecf"]},
                  "legend": {"title": "Algorithm", "orient": "none", "legendX": 6, "legendY": 6, "padding": 5, "fillColor": "white", "strokeColor": "#d4d4d4", "cornerRadius": 3,
                             "titleFontSize": 13.9, "titleFontWeight": "normal", "titleColor": "#111", "titleAnchor": "middle", "titlePadding": 8,
                             "labelFontSize": 13.9, "labelColor": "#111", "labelOffset": 30, "rowPadding": 9,
                             "symbolType": "M-1,-0.3H4V0.3H-1Z", "symbolSize": 196, "symbolStrokeWidth": 0, "symbolOpacity": 1,
                             "encode": {"symbols": {"update": {"fill": {"scale": "color", "field": "value"}, "stroke": {"value": "transparent"}, "strokeWidth": {"value": 0}, "opacity": {"value": 1}}}}}}
      }
    },
    {
      "mark": {"type": "point", "opacity": 0, "clip": true},
      "encoding": {
        "x": {"field": "points", "type": "quantitative", "axis": {"orient": "top", "domain": true, "ticks": false, "labels": false, "title": null, "grid": false}},
        "y": {"field": "speedup", "type": "quantitative", "axis": null}
      }
    }
  ],
  "resolve": {"axis": {"x": "independent", "y": "independent"}}
}
